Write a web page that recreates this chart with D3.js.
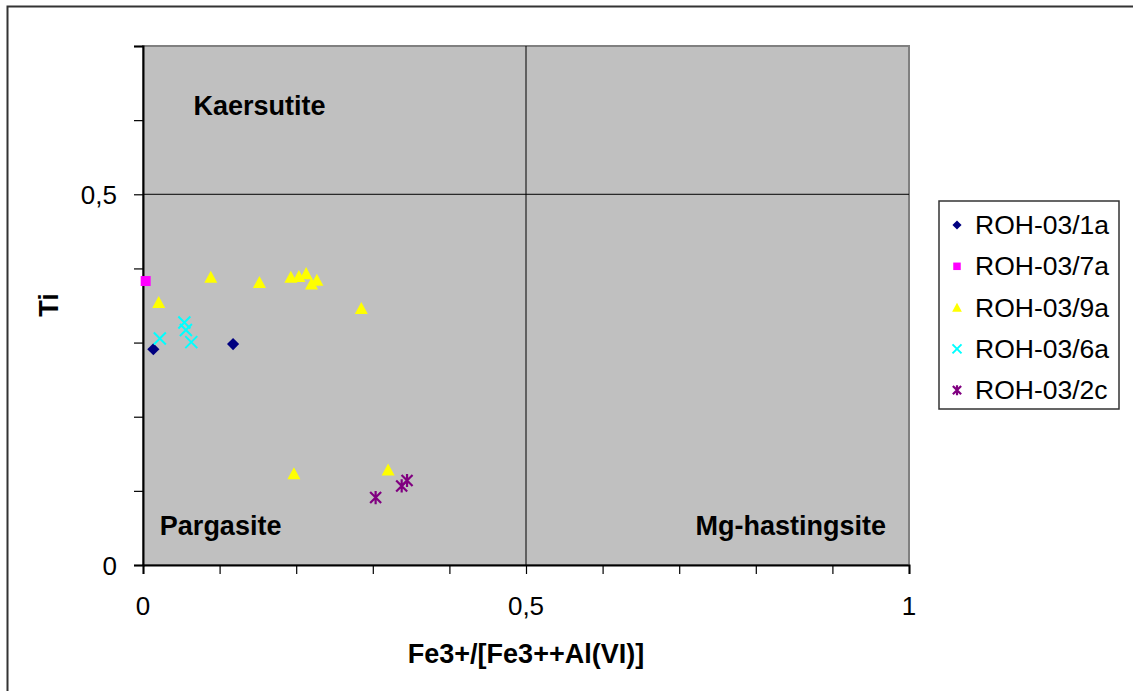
<!DOCTYPE html>
<html>
<head>
<meta charset="utf-8">
<script src="https://cdn.jsdelivr.net/npm/d3@7/dist/d3.min.js"></script>
<style>
  body { margin: 0; background: #fff; }
  svg { display: block; font-family: "Liberation Sans", Arial, sans-serif; }
</style>
</head>
<body>
<svg id="chart" width="1133" height="691"></svg>
<script>
// series
var seriesNames = ['ROH-03/1a', 'ROH-03/7a', 'ROH-03/9a', 'ROH-03/6a', 'ROH-03/2c'];
var x1a = [0.0135, 0.1176], y1a = [0.291, 0.298];
var x7a = [0.0035], y7a = [0.383];
var x9a = [0.0205, 0.0885, 0.152, 0.193, 0.2035, 0.213, 0.22, 0.227, 0.285, 0.197, 0.32];
var y9a = [0.354, 0.388, 0.381, 0.388, 0.389, 0.393, 0.379, 0.384, 0.346, 0.123, 0.128];
var x6a = [0.022, 0.054, 0.056, 0.063], y6a = [0.3055, 0.327, 0.317, 0.3006];
var x2c = [0.3037, 0.3377, 0.3447], y2c = [0.091, 0.1066, 0.114];
var xTicks = [0, 0.5, 1];
var yTicks = [0, 0.5];
var fields = [
  { name: 'Kaersutite', x: 0.066, y: 0.607, anchor: 'start' },
  { name: 'Pargasite', x: 0.022, y: 0.04, anchor: 'start' },
  { name: 'Mg-hastingsite', x: 0.97, y: 0.04, anchor: 'end' }
];

var svg = d3.select('#chart');
var margin = { top: 46, left: 143, right: 224, bottom: 126 };
var width = 1133 - margin.left - margin.right,
  height = 691 - margin.top - margin.bottom;

var x = d3.scaleLinear().domain([0, 1]).range([0, width]);
var y = d3.scaleLinear().domain([0, 0.7]).range([height, 0]);

// outer chart frame (runs off the right and bottom edges)
svg.append('rect')
  .attr('x', 7.5).attr('y', 6.5).attr('width', 1140).attr('height', 700)
  .attr('fill', 'none').attr('stroke', '#333').attr('stroke-width', 2);

var g = svg.append('g').attr('transform', `translate(${margin.left},${margin.top})`);

g.append('rect')
  .attr('width', width).attr('height', height)
  .attr('fill', '#c0c0c0').attr('stroke', '#808080').attr('stroke-width', 2);

// gridlines at 0.5
g.append('line')
  .attr('x1', x(0.5)).attr('x2', x(0.5)).attr('y1', 0).attr('y2', height)
  .attr('stroke', '#000').attr('stroke-width', 1);
g.append('line')
  .attr('x1', 0).attr('x2', width).attr('y1', y(0.5)).attr('y2', y(0.5))
  .attr('stroke', '#000').attr('stroke-width', 1);

// axes: tick marks every 0.1, labels only at 0 / 0.5 / 1
var fmt = d => d3.format('~g')(d).replace('.', ',');

var xAxisGroup = g.append('g').attr('transform', `translate(0,${height})`)
  .call(d3.axisBottom(x).tickValues(d3.range(0, 1.01, 0.1)).tickSize(9).tickFormat(''));
var yAxisGroup = g.append('g')
  .call(d3.axisLeft(y).tickValues(d3.range(0, 0.71, 0.1)).tickSize(9).tickFormat(''));
[xAxisGroup, yAxisGroup].forEach(a => {
  a.select('.domain').attr('stroke', '#000').attr('stroke-width', 2);
  a.selectAll('.tick line').attr('stroke', '#000').attr('stroke-width', 1.2);
});

g.selectAll('.xlab').data(xTicks).enter().append('text')
  .attr('x', d => x(d)).attr('y', height + 50)
  .attr('text-anchor', 'middle').attr('font-size', 26).text(fmt);
g.selectAll('.ylab').data(yTicks).enter().append('text')
  .attr('x', -26).attr('y', d => y(d) + 10)
  .attr('text-anchor', 'end').attr('font-size', 26).text(fmt);

// axis titles
svg.append('text')
  .attr('x', margin.left + x(0.5)).attr('y', 663)
  .attr('text-anchor', 'middle').attr('font-size', 27).attr('font-weight', 'bold')
  .text('Fe3+/[Fe3++Al(VI)]');
svg.append('text')
  .attr('transform', 'translate(58,305) rotate(-90)')
  .attr('text-anchor', 'middle').attr('font-size', 27).attr('font-weight', 'bold')
  .text('Ti');

// field names
g.selectAll('.field').data(fields).enter().append('text')
  .attr('x', d => x(d.x)).attr('y', d => y(d.y))
  .attr('text-anchor', d => d.anchor)
  .attr('font-size', 27).attr('font-weight', 'bold').text(d => d.name);

// markers
var crossPath = s => `M${-s},${-s}L${s},${s}M${-s},${s}L${s},${-s}`;
var starPath = s => `M${-s},${-s}L${s},${s}M${-s},${s}L${s},${-s}M0,${-s * 1.2}L0,${s * 1.2}`;

function drawMarker(sel, kind, color, scale) {
  if (kind === 'diamond') {
    sel.append('path').attr('d', d3.symbol(d3.symbolSquare, 74 * scale * scale)())
      .attr('fill', color).attr('transform', 'rotate(45)');
  } else if (kind === 'square') {
    sel.append('path').attr('d', d3.symbol(d3.symbolSquare, 100 * scale * scale)()).attr('fill', color);
  } else if (kind === 'triangle') {
    var s = 6.5 * scale;
    sel.append('path').attr('d', `M0,${-s}L${s},${s * 0.85}L${-s},${s * 0.85}Z`).attr('fill', color);
  } else if (kind === 'cross') {
    sel.append('path').attr('d', crossPath(6 * scale)).attr('stroke', color).attr('stroke-width', 2).attr('fill', 'none');
  } else {
    sel.append('path').attr('d', starPath(5.5 * scale)).attr('stroke', color).attr('stroke-width', 2.2).attr('fill', 'none');
  }
}

var series = [
  { xs: x1a, ys: y1a, kind: 'diamond', color: '#000080' },
  { xs: x7a, ys: y7a, kind: 'square', color: '#ff00ff' },
  { xs: x9a, ys: y9a, kind: 'triangle', color: '#ffff00' },
  { xs: x6a, ys: y6a, kind: 'cross', color: '#00ffff' },
  { xs: x2c, ys: y2c, kind: 'star', color: '#800080' }
];

series.forEach(function(s) {
  s.xs.forEach(function(v, i) {
    var m = g.append('g').attr('transform', `translate(${x(v)},${y(s.ys[i])})`);
    drawMarker(m, s.kind, s.color, 1);
  });
});

// legend
var legendGroup = svg.append('g').attr('transform', 'translate(939,201)');
legendGroup.append('rect')
  .attr('width', 180).attr('height', 208)
  .attr('fill', '#fff').attr('stroke', '#333').attr('stroke-width', 1.5);

var legend = legendGroup.selectAll('.leg').data(seriesNames).enter().append('g')
  .attr('transform', (d, i) => `translate(0,${24 + i * 41.3})`);
legend.each(function(d, i) {
  var m = d3.select(this).append('g').attr('transform', 'translate(18,0)');
  drawMarker(m, series[i].kind, series[i].color, 0.75);
});
legend.append('text')
  .attr('x', 36).attr('y', 9)
  .attr('font-size', 26.5).text(d => d);
</script>
</body>
</html>
